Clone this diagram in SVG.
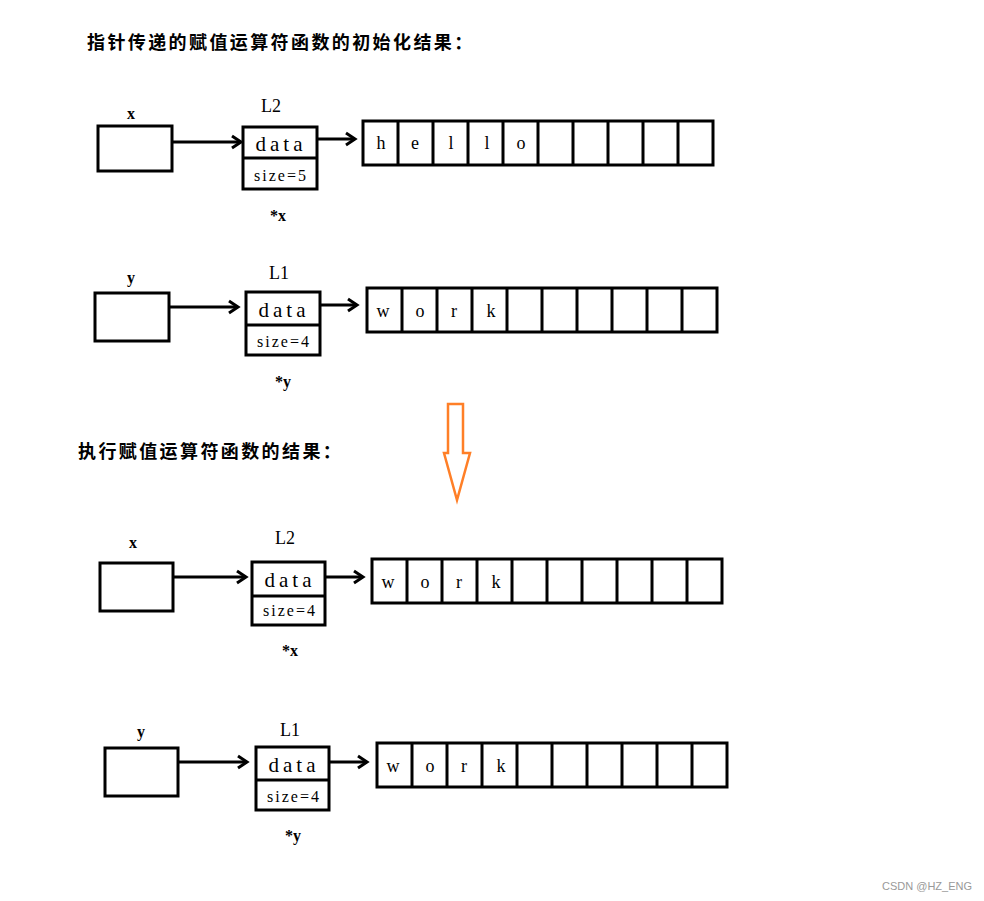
<svg xmlns="http://www.w3.org/2000/svg" width="984" height="901" viewBox="0 0 984 901">
<style>
.box{fill:#fff;stroke:#000;stroke-width:3}
.ln{fill:none;stroke:#000;stroke-width:3}
.lbl{font-family:"Liberation Serif",serif;font-weight:bold;font-size:16px;fill:#000;text-anchor:middle}
.nm{font-family:"Liberation Serif",serif;font-size:18px;fill:#000;text-anchor:middle}
.data{font-family:"Liberation Serif",serif;font-size:21px;letter-spacing:4px;fill:#000;text-anchor:middle}
.size{font-family:"Liberation Serif",serif;font-size:16px;letter-spacing:2px;fill:#000;text-anchor:middle}
.ch{font-family:"Liberation Serif",serif;font-size:18px;fill:#000;text-anchor:middle}
.title{font-family:"Noto Sans CJK SC",sans-serif;font-weight:bold;font-size:18px;letter-spacing:2.4px;fill:#000}
.wm{font-family:"Liberation Sans",sans-serif;font-size:11px;fill:#999}
</style>
<defs>
<marker id="ah" markerUnits="userSpaceOnUse" markerWidth="16" markerHeight="16" refX="12" refY="8" orient="auto">
<path d="M3,2 L12,8 L3,14" fill="none" stroke="#000" stroke-width="3"/>
</marker>
<g id="cells10">
<rect class="box" x="0" y="0" width="350" height="44"/>
<path class="ln" d="M35,0V44M70,0V44M105,0V44M140,0V44M175,0V44M210,0V44M245,0V44M280,0V44M315,0V44"/>
</g>
</defs>
<rect width="984" height="901" fill="#fff"/>

<text class="title" x="87" y="49">指针传递的赋值运算符函数的初始化结果：</text>
<text class="title" x="78" y="458">执行赋值运算符函数的结果：</text>

<g id="orange-arrow">
<polygon points="448,404 463,404 463,453 470,453 457,500 444,453 448,453" fill="none" stroke="#FF7F27" stroke-width="2.5"/>
</g>

<!-- Section 1 -->
<g id="x1">
<text class="lbl" x="131" y="119">x</text>
<rect class="box" x="98" y="126" width="74" height="45"/>
</g>
<g id="L2a">
<text class="nm" x="271" y="112">L2</text>
<rect class="box" x="243" y="127" width="74" height="62"/>
<line class="ln" x1="243" y1="158" x2="317" y2="158"/>
<text class="data" x="281" y="151">data</text>
<text class="size" x="281" y="181">size=5</text>
<text class="lbl" x="278" y="221">*x</text>
</g>
<g id="arr1">
<use href="#cells10" x="363" y="121"/>
<text class="ch" x="381" y="149">h</text>
<text class="ch" x="415" y="149">e</text>
<text class="ch" x="451" y="149">l</text>
<text class="ch" x="487" y="149">l</text>
<text class="ch" x="521" y="149">o</text>
</g>

<!-- Section 2 -->
<g id="y1">
<text class="lbl" x="131" y="283">y</text>
<rect class="box" x="95" y="293" width="74" height="48"/>
</g>
<g id="L1a">
<text class="nm" x="279" y="279">L1</text>
<rect class="box" x="246" y="292" width="74" height="63"/>
<line class="ln" x1="246" y1="325" x2="320" y2="325"/>
<text class="data" x="284" y="317">data</text>
<text class="size" x="284" y="347">size=4</text>
<text class="lbl" x="283" y="387">*y</text>
</g>
<g id="arr2">
<use href="#cells10" x="367" y="288"/>
<text class="ch" x="383" y="317">w</text>
<text class="ch" x="420" y="317">o</text>
<text class="ch" x="454" y="317">r</text>
<text class="ch" x="491" y="317">k</text>
</g>

<!-- Section 3 -->
<g id="x2">
<text class="lbl" x="133" y="548">x</text>
<rect class="box" x="100" y="563" width="73" height="48"/>
</g>
<g id="L2b">
<text class="nm" x="285" y="544">L2</text>
<rect class="box" x="252" y="562" width="73" height="63"/>
<line class="ln" x1="252" y1="596" x2="325" y2="596"/>
<text class="data" x="290" y="587">data</text>
<text class="size" x="290" y="616">size=4</text>
<text class="lbl" x="290" y="656">*x</text>
</g>
<g id="arr3">
<use href="#cells10" x="372" y="559"/>
<text class="ch" x="388" y="588">w</text>
<text class="ch" x="425" y="588">o</text>
<text class="ch" x="459" y="588">r</text>
<text class="ch" x="496" y="588">k</text>
</g>

<!-- Section 4 -->
<g id="y2">
<text class="lbl" x="141" y="737">y</text>
<rect class="box" x="105" y="748" width="73" height="48"/>
</g>
<g id="L1b">
<text class="nm" x="290" y="736">L1</text>
<rect class="box" x="256" y="747" width="73" height="63"/>
<line class="ln" x1="256" y1="780" x2="329" y2="780"/>
<text class="data" x="294" y="772">data</text>
<text class="size" x="294" y="802">size=4</text>
<text class="lbl" x="293" y="841">*y</text>
</g>
<g id="arr4">
<use href="#cells10" x="377" y="743"/>
<text class="ch" x="393" y="772">w</text>
<text class="ch" x="430" y="772">o</text>
<text class="ch" x="464" y="772">r</text>
<text class="ch" x="501" y="772">k</text>
</g>

<g id="connectors">
<line class="ln" x1="172" y1="142" x2="241" y2="142" marker-end="url(#ah)"/>
<line class="ln" x1="317" y1="139" x2="355" y2="139" marker-end="url(#ah)"/>
<line class="ln" x1="169" y1="307" x2="238" y2="307" marker-end="url(#ah)"/>
<line class="ln" x1="320" y1="305" x2="357" y2="305" marker-end="url(#ah)"/>
<line class="ln" x1="173" y1="577" x2="246" y2="577" marker-end="url(#ah)"/>
<line class="ln" x1="325" y1="577" x2="363" y2="577" marker-end="url(#ah)"/>
<line class="ln" x1="178" y1="762" x2="247" y2="762" marker-end="url(#ah)"/>
<line class="ln" x1="329" y1="762" x2="367" y2="762" marker-end="url(#ah)"/>
</g>

<text class="wm" x="882" y="890">CSDN @HZ_ENG</text>
</svg>
